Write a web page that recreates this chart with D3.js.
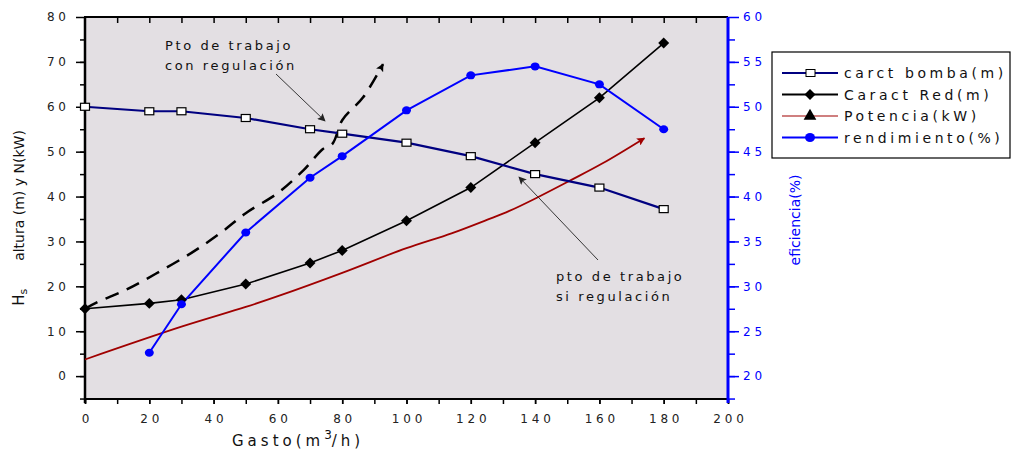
<!DOCTYPE html>
<html>
<head>
<meta charset="utf-8">
<script src="https://cdn.jsdelivr.net/npm/d3@7"></script>
<style>
body { margin: 0; background: #fff; }
text { font-family: "DejaVu Sans", sans-serif; }
</style>
</head>
<body>
<svg id="chart" width="1012" height="452"></svg>
<script>
// caudal (m3/h)
var gastoBomba = [0, 20, 30, 50, 70, 80, 100, 120, 140, 160, 180];
var alturaBomba = [60, 59, 59, 57.5, 55, 54, 52, 49, 45, 42, 37.2];
var gastoRed = [0, 20, 30, 50, 70, 80, 100, 120, 140, 160, 180];
var alturaRed = [15, 16.2, 17, 20.5, 25.2, 28, 34.6, 42, 52, 62, 74.2];
var gastoPot = [0, 30, 50, 60, 80, 100, 114, 125, 132, 141, 151, 161, 174];
var potencia = [3.7, 11, 15.4, 17.8, 23, 28.5, 31.8, 34.8, 36.8, 39.9, 43.6, 47.4, 53];
var gastoRend = [20, 30, 50, 70, 80, 100, 120, 140, 160, 180];
var rendimiento = [22.6, 28, 36, 42.1, 44.5, 49.6, 53.5, 54.5, 52.5, 47.5];
var gastoReg = [0, 4, 13, 22, 33, 42, 50, 60, 68, 74, 77, 80, 86.5, 92.7];
var alturaReg = [15, 16.5, 19.3, 22.8, 27.4, 31.8, 36.3, 40.8, 45.9, 50.6, 51.8, 57, 62.1, 69.5];
var xTicks = [0, 20, 40, 60, 80, 100, 120, 140, 160, 180, 200];
var yTicks = [0, 10, 20, 30, 40, 50, 60, 70, 80];
var y2Ticks = [20, 25, 30, 35, 40, 45, 50, 55, 60];

var svg = d3.select("#chart");
var pLeft = 85, pRight = 728, pTop = 17, pBottom = 399;

var x = d3.scaleLinear().domain([0, 200]).range([pLeft, pRight]);
var y = d3.scaleLinear().domain([-5.1, 80]).range([pBottom, pTop]);
var y2 = d3.scaleLinear().domain([17.45, 60]).range([pBottom, pTop]);

var defs = svg.append("defs");
function marker(id, color) {
    defs.append("marker").attr("id", id)
        .attr("viewBox", "0 0 10 10").attr("refX", 9).attr("refY", 5)
        .attr("markerWidth", 10).attr("markerHeight", 8)
        .attr("markerUnits", "userSpaceOnUse")
        .attr("orient", "auto")
        .append("path").attr("d", "M0,0L10,5L0,10L2,5Z").attr("fill", color);
}
marker("arrBlack", "#000");
marker("arrRed", "#a00000");
marker("arrThin", "#222");

svg.append("rect").attr("x", pLeft).attr("y", pTop)
    .attr("width", pRight - pLeft).attr("height", pBottom - pTop)
    .attr("fill", "#e3dfe3");

// ejes
var spaced = function(d) { return String(d).split("").join(" "); };

svg.append("g").attr("transform", "translate(0," + pBottom + ")")
    .call(d3.axisBottom(x).tickValues(d3.range(0, 201, 10)).tickSize(5).tickFormat(""));
svg.append("g").attr("transform", "translate(0," + pBottom + ")")
    .call(d3.axisBottom(x).tickValues(xTicks).tickSize(5).tickPadding(10).tickFormat(spaced));
svg.append("g").attr("transform", "translate(0," + pTop + ")")
    .call(d3.axisBottom(x).tickValues(d3.range(10, 200, 10)).tickSize(6).tickFormat(""));
svg.append("g").attr("transform", "translate(" + pLeft + ",0)")
    .call(d3.axisLeft(y).tickValues(d3.range(-5, 80, 5)).tickSize(5).tickFormat(""));
svg.append("g").attr("transform", "translate(" + pLeft + ",0)")
    .call(d3.axisLeft(y).tickValues(yTicks).tickSize(9).tickPadding(10).tickFormat(spaced));
svg.append("g").attr("class", "ax2").attr("transform", "translate(" + pRight + ",0)")
    .call(d3.axisRight(y2).tickValues(d3.range(17.5, 60, 2.5)).tickSize(7).tickFormat(""));
svg.append("g").attr("class", "ax2").attr("transform", "translate(" + pRight + ",0)")
    .call(d3.axisRight(y2).tickValues(y2Ticks).tickSize(11).tickPadding(4).tickFormat(spaced));

svg.selectAll(".domain").remove();
svg.selectAll(".tick line").attr("stroke", "#000").attr("stroke-width", 1.5);
svg.selectAll(".tick text").attr("fill", "#222").style("font-size", "12px");
svg.selectAll(".ax2 .tick line").attr("stroke", "#0000ff");
svg.selectAll(".ax2 .tick text").attr("fill", "#0000ff");

svg.append("line").attr("x1", pLeft - 1).attr("x2", pRight).attr("y1", pTop).attr("y2", pTop)
    .attr("stroke", "#000").attr("stroke-width", 2);
svg.append("line").attr("x1", pLeft - 1).attr("x2", pRight).attr("y1", pBottom).attr("y2", pBottom)
    .attr("stroke", "#000").attr("stroke-width", 2);
svg.append("line").attr("x1", pLeft).attr("x2", pLeft).attr("y1", pTop).attr("y2", pBottom + 4)
    .attr("stroke", "#000").attr("stroke-width", 2.5);
svg.append("line").attr("x1", pRight).attr("x2", pRight).attr("y1", pTop).attr("y2", pBottom + 4)
    .attr("stroke", "#0000ff").attr("stroke-width", 3);

// series
function pts(xs, ys, sy) { return xs.map(function(v, i) { return [x(v), sy(ys[i])]; }); }
var line = d3.line();
var curve = d3.line().curve(d3.curveCatmullRom);

svg.append("path").attr("d", curve(pts(gastoReg, alturaReg, y)))
    .attr("fill", "none").attr("stroke", "#000").attr("stroke-width", 2.5)
    .attr("stroke-dasharray", "14,9").attr("marker-end", "url(#arrBlack)");

svg.append("path").attr("d", curve(pts(gastoPot, potencia, y)))
    .attr("fill", "none").attr("stroke", "#a00000").attr("stroke-width", 1.8)
    .attr("marker-end", "url(#arrRed)");

svg.append("path").attr("d", line(pts(gastoRed, alturaRed, y)))
    .attr("fill", "none").attr("stroke", "#000").attr("stroke-width", 1.6);
svg.append("path").attr("d", line(pts(gastoBomba, alturaBomba, y)))
    .attr("fill", "none").attr("stroke", "#000080").attr("stroke-width", 2.2);
svg.append("path").attr("d", line(pts(gastoRend, rendimiento, y2)))
    .attr("fill", "none").attr("stroke", "#0000ff").attr("stroke-width", 2);

var diamond = d3.symbol().type(d3.symbolSquare).size(60);
svg.selectAll(".red").data(pts(gastoRed, alturaRed, y)).enter().append("path")
    .attr("d", diamond())
    .attr("transform", function(d) { return "translate(" + d[0] + "," + d[1] + ") rotate(45)"; })
    .attr("fill", "#000");

svg.selectAll(".bomba").data(pts(gastoBomba, alturaBomba, y)).enter().append("rect")
    .attr("x", function(d) { return d[0] - 4.5; }).attr("y", function(d) { return d[1] - 3.5; })
    .attr("width", 9).attr("height", 7)
    .attr("fill", "#fff").attr("stroke", "#000").attr("stroke-width", 1.2);

svg.selectAll(".rend").data(pts(gastoRend, rendimiento, y2)).enter().append("ellipse")
    .attr("cx", function(d) { return d[0]; }).attr("cy", function(d) { return d[1]; })
    .attr("rx", 4.5).attr("ry", 4).attr("fill", "#0000ff");

// anotaciones
function note(tx, ty, lines) {
    var t = svg.append("text").attr("x", tx).attr("y", ty)
        .style("font-size", "13px").style("letter-spacing", "2.6px").attr("fill", "#111");
    lines.forEach(function(s, i) {
        t.append("tspan").attr("x", tx).attr("dy", i ? 20 : 0).text(s);
    });
}
note(165, 50, ["Pto de trabajo", "con regulación"]);
note(556, 281, ["pto de trabajo", "si regulación"]);
svg.append("line").attr("x1", 276).attr("y1", 74).attr("x2", 325).attr("y2", 121)
    .attr("stroke", "#222").attr("stroke-width", 0.9).attr("marker-end", "url(#arrThin)");
svg.append("line").attr("x1", 598).attr("y1", 260).attr("x2", 519).attr("y2", 177)
    .attr("stroke", "#222").attr("stroke-width", 0.9).attr("marker-end", "url(#arrThin)");

// titulos de ejes
var yl = svg.append("text").attr("transform", "translate(24,218) rotate(-90)")
    .attr("text-anchor", "middle").style("font-size", "14px").attr("fill", "#111");
yl.append("tspan").style("font-size", "15px").text("H");
yl.append("tspan").attr("dy", 3).style("font-size", "11px").text("s");
yl.append("tspan").attr("dy", -3).attr("xml:space", "preserve").text("\u2003\u2003altura (m) y N(kW)");

var xl = svg.append("text").attr("x", 232).attr("y", 446)
    .style("font-size", "15px").style("letter-spacing", "4px").attr("fill", "#111");
xl.append("tspan").text("Gasto(m");
xl.append("tspan").attr("dy", -7).style("font-size", "12px").style("letter-spacing", "0px").text("3");
xl.append("tspan").attr("dy", 7).text("/h)");

svg.append("text").attr("transform", "translate(800,220) rotate(-90)")
    .attr("text-anchor", "middle").style("font-size", "14px").attr("fill", "#0000ff")
    .text("eficiencia(%)");

// leyenda
var legNames = ["carct bomba(m)", "Caract Red(m)", "Potencia(kW)", "rendimiento(%)"];
var legColors = ["#000080", "#000", "#a00000", "#0000ff"];
var leg = svg.append("g");
leg.append("rect").attr("x", 772).attr("y", 52).attr("width", 238).attr("height", 106)
    .attr("fill", "#fff").attr("stroke", "#000").attr("stroke-width", 1.2);
legNames.forEach(function(name, i) {
    var ly = 73 + i * 21.5;
    leg.append("line").attr("x1", 782).attr("x2", 838).attr("y1", ly).attr("y2", ly)
        .attr("stroke", legColors[i]).attr("stroke-width", i == 2 ? 1.2 : 2);
    if (i == 0) {
        leg.append("rect").attr("x", 806).attr("y", ly - 3.5).attr("width", 9).attr("height", 7)
            .attr("fill", "#fff").attr("stroke", "#000");
    } else if (i == 1) {
        leg.append("path").attr("d", diamond())
            .attr("transform", "translate(810," + ly + ") rotate(45)").attr("fill", "#000");
    } else if (i == 2) {
        leg.append("path").attr("d", d3.symbol().type(d3.symbolTriangle).size(70)())
            .attr("transform", "translate(810," + ly + ")").attr("fill", "#000");
    } else {
        leg.append("ellipse").attr("cx", 810).attr("cy", ly).attr("rx", 5).attr("ry", 4.5)
            .attr("fill", "#0000ff");
    }
    leg.append("text").attr("x", 844).attr("y", ly + 5)
        .style("font-size", "14px").style("letter-spacing", "3.6px").attr("fill", "#111")
        .text(name);
});
</script>
</body>
</html>
